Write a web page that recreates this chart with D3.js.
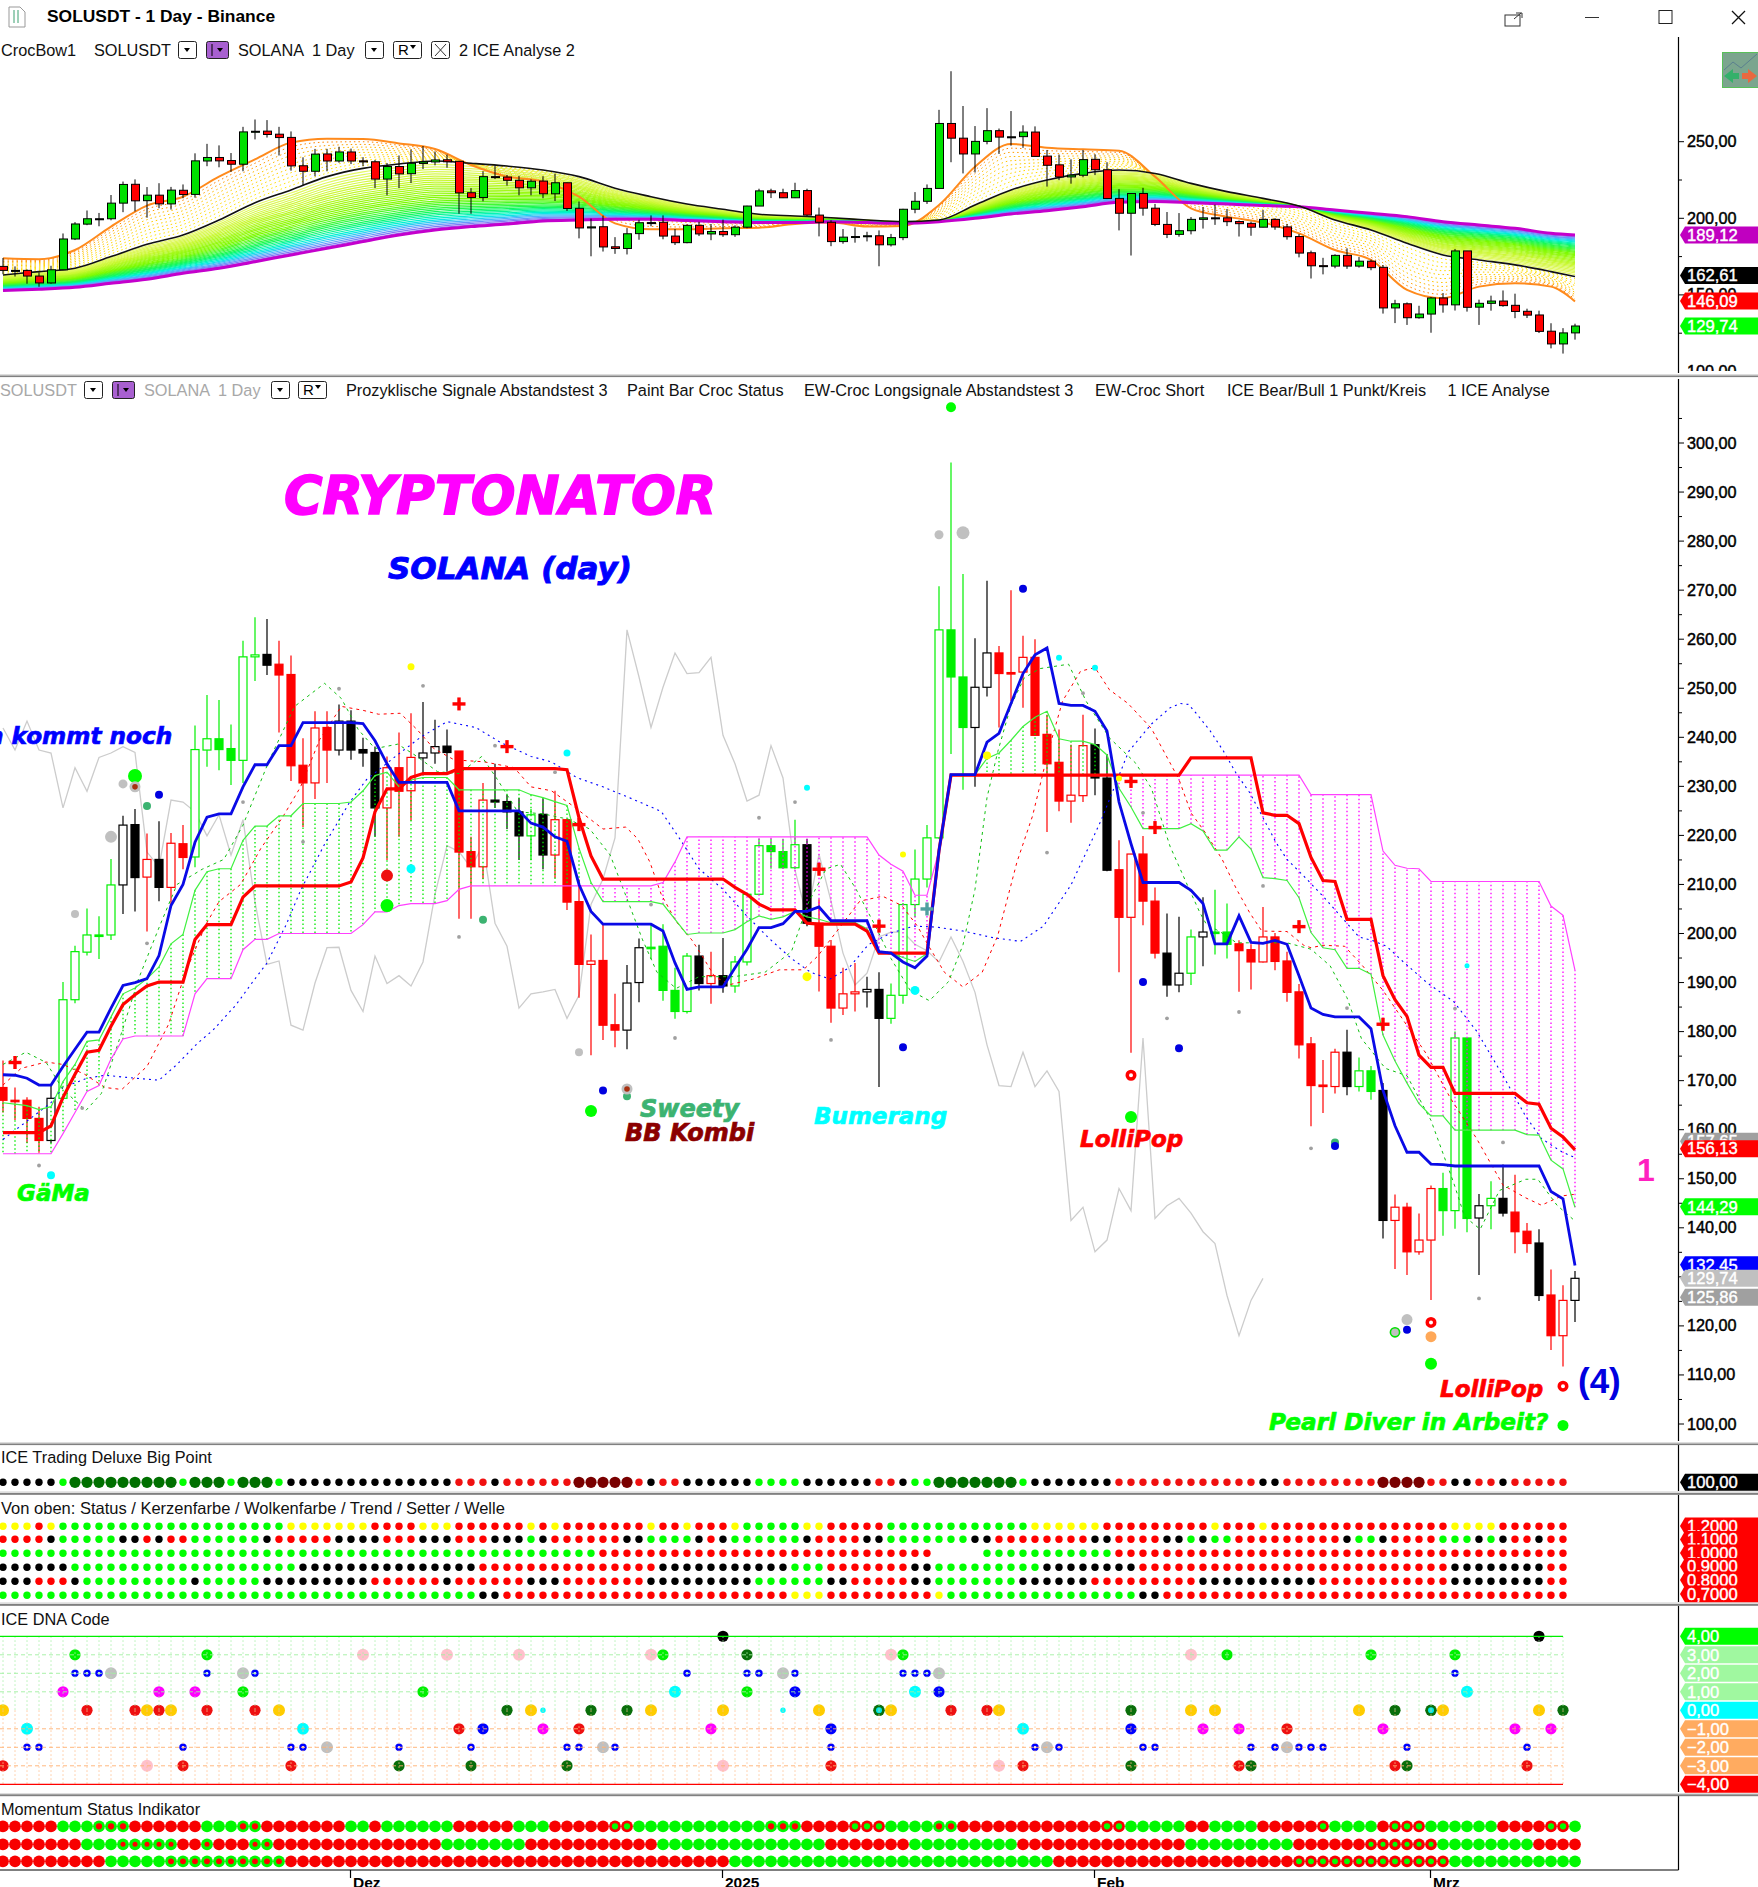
<!DOCTYPE html>
<html><head><meta charset="utf-8">
<script src="https://cdn.jsdelivr.net/npm/d3@7/dist/d3.min.js"></script>
<style>html,body{margin:0;padding:0;background:#fff;overflow:hidden}svg{display:block}text{font-family:"Liberation Sans",Arial,sans-serif}</style>
</head><body><svg id="c" width="1758" height="1887"></svg>
<script>
const opens=[168.6,166,166,162.3,157.8,166.4,186.5,196.2,199.7,199.7,209.9,222.2,211.5,215.1,209.4,218.3,215.6,237.4,239.7,237.7,235.3,256.4,256.9,254.9,252.8,234.3,230.7,242,237.4,243.3,237.5,236.9,225.6,233.8,229.1,235.8,236.8,238.2,237.2,216.7,213.6,227.2,226.9,224.8,219.9,224.3,216,223.2,206.5,193.7,194.5,181.4,180.3,190,197.2,197.4,188.4,184.1,195.4,189.8,191.4,189.3,194.2,208,217.9,216.7,213.4,218.1,202.1,197.4,184.8,187.7,188.1,188.6,182.7,187.4,205.9,211.1,219.5,261.9,252.3,242,250.2,257.2,253.2,253.3,256.3,240.6,234.9,227,228.1,238.5,231.7,213,203.3,216.2,206.6,196,189.5,191.9,199.3,200.3,200.3,197.9,196.7,194.2,199.3,194.4,188.1,177.5,169.1,168.8,175.8,168.8,172,168,141.5,144.2,135.1,137.5,148,143.5,178.7,142,144.5,146,143.2,139.3,136.9,126.3,118,125.2];
const highs=[174.1,168.6,166.6,164.7,169,190.1,197.5,205.1,203.5,215.2,224,225.4,220.4,222.9,220.5,222.1,242.4,248.6,247.6,242.6,259.7,264.5,264.1,259.7,256.7,239.8,245.3,245.3,246.7,245.5,239.9,238.1,236.1,241,244.9,247.2,243.6,241.6,237.2,219.7,230.7,234.6,228.3,227.7,225.4,227.5,229.1,223.3,211,199.8,201.8,187.7,193.6,199,201.9,201.9,193,196,197.7,196.3,199.1,195.4,208.2,219.3,219.3,219.3,223.2,219.3,207,198.7,193,194,191.2,192.1,189.8,206.2,217.1,222.1,270.8,296,273.3,260.2,271.9,258.6,270,260.7,260,244.6,241.6,238.5,244.6,241.8,236.6,219,216.2,219.9,209.4,204.1,203.4,200.8,207.4,208.9,206.1,198.6,197.8,205.4,200.1,196.3,189.7,178.9,174.2,176.5,180.4,174.7,173,169.5,146.8,145.1,142.9,148.6,151.2,180,178.7,146.9,149.5,152.9,150.8,141,139.7,131.5,128.3,131.2];
const lows=[163.5,162,157.3,155.3,157.3,166.2,185.8,195.5,194.8,198.7,204,204.5,200.4,206.6,205.7,213.1,213.5,234,233.3,230.3,230.7,251.5,252.7,241,231.1,221.7,227.4,230.7,236.3,235.4,234,219.7,215,219.7,223,232.2,234.6,233,203,203,211.1,225.6,221.3,215,215,213.1,211.3,204.8,186.9,175.2,178.3,176.8,176.4,186,194.8,186.3,182.6,183.7,188.4,185.7,187.9,187.9,193.5,208,213.2,213.2,213.2,201.5,188.2,181.8,183.4,184.1,184.9,168.7,181.6,185.7,203.3,209.4,219.3,236.6,229.3,229.9,248.3,242,247.4,246,240.4,220.7,224.9,222.6,226.8,228.2,212.7,192.1,175.7,201.7,194.9,187.1,188,189.5,193.3,195.7,194.9,188.1,188.6,194.1,192.5,186.1,174.5,160.7,163.4,167.4,167,167.8,166.1,137.8,131.6,130.4,134.5,125.3,138.4,139.8,139.1,130.4,139.7,142.3,134.8,134.9,125.1,115.1,111.7,120.8];
const closes=[166,166,162.3,157.8,166.4,186.5,196.3,199.7,199.7,209.9,222.1,211.4,215.1,209.4,218.4,215.5,237.5,239.7,237.5,235.3,256.4,256.8,254.7,252.7,234.2,230.7,241.9,237.4,243.3,237.4,236.8,225.6,233.8,229,235.9,236.8,238.1,236.9,216.6,213.6,227.2,226.8,224.8,219.9,224.2,216,223.2,206.4,193.7,194.4,181.3,180.3,189.9,197.1,197.2,188.4,184.1,195.4,189.8,191.4,189.3,194.2,208,217.9,216.7,213.4,218.1,202.1,197.4,184.8,187.7,188.1,188.6,182.7,187.4,205.9,211.1,219.5,261.9,252.3,242,250.2,257.2,253,253.2,256.3,240.4,234.6,227,228.2,238.3,231.7,212.9,203.3,216.2,206.6,196,189.5,191.9,199.3,200.3,200.3,197.8,196.5,194.2,199.3,194.3,188,177.3,169,168.8,175.8,168.8,172,167.8,141.5,144.2,135.1,137.5,148,143.5,178.7,141.9,144.5,146,143,139.2,136.8,126.2,118,125.2,129.7];
const candleColors="rrrrkgggggkkrkrrggggggkrrrrrkkkkrrrkkkrrrkkkgkrrrrrrkkggggkrkgggggg krrrrkkgggggggkkrrrrrrrrkkrrrrkkgkggrrrrrrrrrkggkrrrrgggkgkrrkrrk".replace(/ /g,"");
const tenkanBlue=[171.2,171.1,170.5,169.1,169.1,172.9,176.4,179.9,179.9,184.8,189.4,190,190.8,195.5,205.7,210,218.6,223.7,224.4,224.4,229.9,234.4,234.4,238.3,238.3,243,243,243,243,243,242.8,239.3,234.6,230.8,230.8,230.8,230.8,230.8,225,225,225,225,225,225,222.5,221.7,219.7,218.8,210,204.5,201.9,201.9,201.9,201.9,201.9,200.5,194,188.6,189.1,189.1,189.1,193,196.8,201.2,201.2,202,204.5,204.5,205.4,202.6,202.6,202.6,202.6,196.3,196,194.2,193,195.4,216.9,232.4,232.4,232.4,239,240.8,246.9,253,256.8,258.2,246.9,246.5,246.5,245.3,241.3,226.8,218.3,210.4,210.4,210.4,210.4,208.8,206.1,197.9,197.9,203.6,198.2,198,198.6,197.8,191.4,184.8,183.5,183,183,183,180.6,168,160.8,155.4,155.4,153,152.9,152.6,152.6,152.6,152.6,152.6,152.6,152.6,152.6,147.4,145.9,132.3];
const kijunRed=[159.4,159.4,159.4,159.4,160.8,166.6,171.3,175.8,176.2,181.1,185.5,187.5,189.3,190.1,190.1,190.1,198.8,201.8,201.8,201.8,207.4,209.7,209.7,209.7,209.7,209.7,209.7,209.7,209.7,210.5,215.4,224.8,229.5,229.5,231.8,232.6,232.6,232.6,233.6,233.6,233.6,233.6,233.6,233.6,233.6,233.6,233.6,233.4,223.6,215.8,211.1,211.1,211.1,211.1,211.1,211.1,211.1,211.1,211.1,211.1,211.1,209.4,208,206,204.8,204.8,204.8,202.1,201.9,201.9,201.9,201.9,200.5,196,196,196,196,196,216.9,232.3,232.3,232.3,232.3,232.3,232.3,232.3,232.3,232.3,232.3,232.3,232.3,232.3,232.3,232.3,232.3,232.3,232.3,232.3,232.3,235.8,235.8,235.8,235.8,235.8,235.8,224.6,224.1,224.1,222.4,215.5,210.8,210.6,202.9,202.9,202.9,191.4,186.5,183.1,175.2,172.7,172.7,167.4,167.4,167.4,167.4,167.4,167.4,165.5,165.2,160.3,158.5,155.9];
const senkouGreen=[165.5,165.2,164.9,164.1,164.7,169.8,173.3,178,178.3,183,187.7,188.9,190.8,193.2,197.9,199.8,208.8,212.6,213.2,213.2,219,221.9,221.9,224,224,226.5,226.5,226.5,226.5,226.8,229.1,232.2,232.9,229.9,231.3,231.8,231.8,231.8,229.3,229.3,229.3,229.3,229.3,229.3,228.3,227.7,226.9,226.1,217.4,210.4,206.5,206.5,206.5,206.5,206.5,206,202.9,199.8,200.1,200.1,200.1,200.8,202.4,203.6,202.9,203.4,204.5,203.4,202.9,202.2,202.2,202.2,201,196.3,196,195.1,194.3,195.9,216.9,232.4,232.4,232.4,235.7,236.8,239.4,242.2,244.1,245.3,239.7,239.2,239.2,238.5,236.4,229.6,225.8,221.4,221.4,221.4,221.4,222.4,220.9,217,217,219.7,217.2,211.4,211.2,210.8,207.3,200.2,197.1,196.7,192.9,192.9,191.7,179.3,174,169.5,165.3,162.8,162.8,159.9,159.9,159.9,159.9,159.9,159.9,159,158.9,153.8,152,144.2];
const senkouMagenta=[155.1,155.1,155.1,155.1,155.1,159.2,163.5,167.8,169,174.4,178.5,179.1,179.1,179.1,179.1,179.1,187.7,190.8,190.8,190.8,196.7,198.8,198.8,200,200,200,200,200,200,200,201.8,204.4,204.4,205.7,206.1,206.1,206.1,206.7,209,209.7,209.7,209.7,209.7,209.7,209.7,209.7,209.7,209.7,209.7,209.7,209.7,209.7,209.7,209.7,209.7,210.4,214.6,219.7,219.7,219.7,219.7,219.7,219.7,219.7,219.7,219.7,219.7,219.7,219.7,219.7,219.7,219.7,219.7,216,214.1,212.7,207.8,207.8,216.9,232.3,232.3,232.3,232.3,232.3,232.3,232.3,232.3,232.3,232.3,232.3,232.3,232.3,232.3,232.3,232.3,232.3,232.3,232.3,232.3,232.3,232.3,232.3,232.3,232.3,232.3,232.3,232.3,232.3,232.3,228.3,228.3,228.3,228.3,228.3,228.3,216.8,213.9,213.3,213.2,210.6,210.6,210.6,210.6,210.6,210.6,210.6,210.6,210.6,210.6,205.6,203.7,192.5];
const dashBlue=[[0,158],[4,165.5],[5,168.6],[7,170.5],[8.5,171.1],[11,170.5],[13,170.1],[14.5,173.3],[16.2,177.6],[17.5,180.3],[19.4,185.4],[20.8,190.1],[22,194],[23.6,201.8],[24.8,208.8],[26.8,218.2],[28.9,226.8],[30.3,231.4],[32.7,236.1],[34.8,240],[37,243.2],[39.4,242],[41.5,238.9],[44,236.1],[45.7,235],[47.8,231.8],[50,229.9],[51.7,228.2],[54.85,224.9],[56.4,219.3],[58,213.2],[60,209],[61.9,203.8],[63.8,199.1],[65.7,194.9],[67.3,192.1],[68.9,190.7],[70.5,193],[72.1,197.7],[74,200.1],[75.9,201.5],[77.8,201.3],[80,200.5],[82.6,199.1],[84.8,198.4],[86.7,201.5],[89,209.9],[91.5,223],[93.8,237.1],[95.7,242.7],[97.25,246],[98.1,246.9],[98.8,246.7],[99.5,244.7],[100.6,241.3],[101.7,237.2],[102.8,232.5],[103.9,228.7],[105,223.6],[106.1,218.5],[107,215.1],[108.4,211.7],[110,207.6],[111.7,202.9],[113,199.3],[114.2,198.5],[115.3,197.4],[116.7,194.2],[118.7,189.9],[120.9,186.1],[122.8,180.1],[125,171],[126.9,162.7],[128.2,158.2],[129.9,155.5],[130.9,154.4]];
const dashRed=[[0,169.1],[1.5,172.5],[3.6,173.8],[5,173.3],[6.8,171.3],[8.5,168.6],[9.9,168.2],[12,172.9],[13.8,181.5],[15.2,192],[16.9,201.8],[18,206.5],[19.8,210],[21.5,217.4],[23.3,223.7],[24.8,229.9],[26.4,239.6],[28.2,246.3],[30,245.5],[31.3,244.7],[33.1,244.9],[34.5,241.6],[35.9,237.7],[37.6,235.4],[40.1,235],[42.6,233.8],[44,229.9],[45.7,229.1],[47.5,226],[50,221.3],[51.9,221.7],[52.9,219.3],[53.9,214.6],[54.85,208],[56.1,202.4],[57.4,198.7],[58.4,194.9],[59.3,191.2],[60.6,189.6],[62.5,190.7],[64.7,192.6],[66.7,192.6],[67.9,195.4],[69.5,200.5],[71.4,206.6],[73.3,207.6],[74.9,205.7],[76.2,201.5],[77.2,197.2],[78.45,192.1],[80,189.1],[81.6,192.1],[82.9,199.6],[84.5,214.6],[85.8,224],[87.1,237.1],[88.3,247.4],[89.8,253.5],[91,254.2],[92.2,249.7],[93.75,246.9],[95.7,241.8],[97.25,234.8],[98,231.4],[99,224.6],[100.3,220.2],[101.6,215.1],[102.8,209],[103.9,204.2],[104.9,200.5],[107,200.4],[108.4,197.6],[109,197.1],[110,197.6],[111.8,197.4],[113.2,193.7],[115,188.4],[116.7,182.3],[118.6,175.5],[120.6,166.5],[122.8,158.2],[125,148.7],[126.9,146.1],[128.2,144.6],[129.9,146.5],[130.9,146.8]];
const dashGreen=[[0,173.3],[1.9,175.8],[3.6,173.7],[5,168.2],[6.9,163.9],[8.2,167.4],[9.9,179.9],[11.3,190.8],[13.1,201.8],[14.5,210],[16.6,213.1],[18.4,215.1],[20,222.1],[22.2,235.4],[24.3,246.3],[26.8,251],[28.2,247.9],[29.6,241.6],[31,237.7],[32.9,238.6],[34.5,236.1],[36.2,233],[38,232.6],[39.9,236.1],[41.2,231.4],[42.9,224.8],[45,224.4],[47.1,223.3],[48.9,221.3],[50.6,216],[52,207.1],[53.3,198.7],[54.5,192.1],[56.1,188.8],[58,191.2],[60.9,191.2],[63.5,192.1],[65.7,196.3],[67.1,206.2],[68.6,213.2],[69.8,214.1],[71.1,209],[72.7,201.5],[74,194.9],[75.6,188.4],[77.2,186.3],[78.8,190.2],[80,197.7],[81,209],[82,227.7],[82.9,237.1],[84,246.5],[85.1,252.1],[86.4,254],[88.8,254.9],[90.25,247.4],[92.2,239.9],[94.4,234.7],[95.7,229.6],[97.25,217.8],[98.6,210.4],[99.75,204.2],[100.3,201.8],[101.4,200.4],[102.8,198.1],[107,198.1],[109,196.8],[110.6,193.4],[112,186.9],[113.2,178.6],[115.2,172.5],[117,171],[119,161.9],[120.9,149.1],[121.8,142.3],[123.1,139.7],[124.7,147.6],[126.9,149.9],[127.9,149.9],[129.5,144.6],[130.9,141.6]];
const bowIndex=[0,3,6,9,12,15,18,21,24,27,30,33,36,39,42,45,48,51,54,57,60,63,66,69,72,75,78,81,84,87,90,93,96,99,102,105,108,111,114,117,120,123,126,129,131];
const bowOrange=[173.9,173.3,179.3,194.6,208.3,214.1,227.2,238.5,249.4,252,251.7,248.9,245.2,234.8,227.2,223.9,214.1,196.7,192.8,192.8,193.5,193.9,196.3,197.2,194.6,195,208.7,233.7,248.5,246.1,245,244.1,227.2,206.5,201.1,197.2,190.2,179.3,172.8,153.3,147.8,155.4,157.6,155.4,145.7];
const bowBlack=[163,165.2,167.4,175,183,189.1,198.9,210.2,218.5,227.2,232.6,235.4,237.4,235.9,234.1,231.5,227.2,219.6,214.1,209.3,205.9,202.6,201.5,200.4,198.9,197.8,198.9,208.7,218.5,225,229.3,231.5,229.3,222.8,217.4,213,208,198.9,192.4,183.7,176.1,172.8,169.6,165.2,162];
const bowMagenta=[152.8,153.7,155,157.6,160.2,164.1,167.4,171.7,176.1,180.4,184.8,189.1,192.4,194.6,196.3,198.3,198.9,199.3,199.3,198.5,197.8,197.2,197.2,197.8,197.2,196.7,197.8,200,202.8,205,207.6,210.4,210.9,210.2,209.3,208.3,207.6,205.4,203.3,201.1,197.8,195.6,193.5,190.2,189.1];
const bigPointRuns="k5 g1 G9 g1 G3 g1 G3 g1 k14 r3 k1 r6 D5 r1 k1 r2 k6 g4 k6 r2 k1 g2 G7 g1 k7 r12 k2 r8 D4 r2 k2 r2 k1 r5";
const statusRuns="y3 r1 y1 g19 y7 r4 y3 r6 y1 r1 y1 r7 y1 r2 y1 r3 y1 g5 y2 r5 g12 y6 r9 y1 r3 y1 r15 y4 r6";
const cloudRuns="g50 r28 _4 g11 r38";
const trendRuns="k6 g19 k15 r15 k11 g3 r7 k2 g9 k8 r26 k8 r2";
const setterRuns="k3 r3 k1 g9 k1 g5 k9 r6 k1 r6 k3 r7 k9 g6 k2 r5 k2 g7 k6 r9 k10 r11 k8 r2";
const welleRuns="g40 k2 r24 y3 r9 y1 g16 k2 r34";
const momentum1="R5 G3 a3 R6 G3 a2 R7 G2 R1 G6 R5 G3 R5 b2 G11 a3 R4 b3 G4 a2 R12 b2 G5 R2 G4 R5 b1 G4 R1 b3 G6 R4 b2 G1";
const momentum2="R7 G3 a5 R2 a1 R3 a2 R14 G7 R11 G14 R7 G9 R14 G9 R6 b6 G8 R4";
const momentum3="R9 G5 a10 R37 G27 R20 b13 G11";
const dnaDots=[[6,3,"g"],[17,3,"g"],[30,3,"P"],[37,3,"P"],[43,3,"P"],[54,3,"P"],[55,3,"g"],[62,3,"D"],[74,3,"P"],[75,3,"g"],[99,3,"P"],[102,3,"g"],[114,3,"g"],[121,3,"g"],
[6,2,"b"],[7,2,"b"],[8,2,"b"],[9,2,"s"],[17,2,"b"],[20,2,"s"],[21,2,"b"],[57,2,"b"],[62,2,"b"],[63,2,"b"],[65,2,"s"],[66,2,"b"],[75,2,"b"],[76,2,"b"],[77,2,"b"],[78,2,"s"],[121,2,"b"],
[5,1,"M"],[13,1,"M"],[16,1,"M"],[20,1,"g"],[35,1,"g"],[56,1,"c"],[62,1,"g"],[66,1,"B"],[76,1,"c"],[78,1,"B"],[122,1,"c"],
[0,0,"o"],[7,0,"R"],[11,0,"R"],[12,0,"o"],[13,0,"R"],[14,0,"o"],[17,0,"R"],[21,0,"R"],[23,0,"o"],[42,0,"D"],[44,0,"o"],[45,0,"t"],[49,0,"D"],[52,0,"D"],[54,0,"o"],[60,0,"o"],[65,0,"t"],[68,0,"o"],[73,0,"X"],[74,0,"o"],[79,0,"R"],[82,0,"R"],[83,0,"o"],[94,0,"D"],[99,0,"o"],[101,0,"o"],[113,0,"o"],[116,0,"D"],[119,0,"X"],[120,0,"o"],[128,0,"o"],[130,0,"D"],
[2,-1,"c"],[25,-1,"c"],[38,-1,"R"],[40,-1,"B"],[45,-1,"M"],[48,-1,"R"],[59,-1,"M"],[69,-1,"B"],[85,-1,"c"],[94,-1,"B"],[100,-1,"M"],[103,-1,"M"],[107,-1,"R"],[115,-1,"M"],[126,-1,"M"],[129,-1,"M"],
[2,-2,"b"],[3,-2,"b"],[15,-2,"b"],[24,-2,"b"],[25,-2,"b"],[27,-2,"s"],[33,-2,"b"],[39,-2,"b"],[47,-2,"b"],[48,-2,"b"],[50,-2,"s"],[51,-2,"b"],[69,-2,"b"],[86,-2,"b"],[87,-2,"s"],[88,-2,"b"],[95,-2,"b"],[96,-2,"b"],[104,-2,"b"],[106,-2,"b"],[107,-2,"s"],[108,-2,"b"],[109,-2,"b"],[110,-2,"b"],[117,-2,"b"],[127,-2,"b"],
[0,-3,"R"],[12,-3,"P"],[15,-3,"R"],[24,-3,"R"],[33,-3,"D"],[39,-3,"D"],[47,-3,"D"],[60,-3,"P"],[69,-3,"R"],[83,-3,"P"],[85,-3,"R"],[94,-3,"D"],[103,-3,"R"],[104,-3,"D"],[116,-3,"R"],[117,-3,"D"],[127,-3,"R"],
[60,4,"k"],[128,4,"k"]];
const mainMarkers=[[11,232.1,"lime",7],[10,230.5,"#c0c0c0",4.5],[13,228.3,"#0000e0",4],[12,226,"#3cb371",4],[9,219.7,"#c0c0c0",6],[6,204,"#c0c0c0",4],[4,150.7,"#00ffff",4],[34,254.4,"#ffff00",3.5],[47,236.8,"#00ffff",3.5],[32,211.8,"#ee1010",6],[32,205.7,"lime",6.5],[34,213.2,"#00ffff",4.5],[40,202.8,"#3cb371",4],[48,175.8,"#c0c0c0",4],[50,168,"#0000e0",4],[52,166.8,"#3cb371",4],[49,163.8,"lime",6],[78,281.3,"#c0c0c0",4.5],[80,281.7,"#c0c0c0",6.5],[85,270.3,"#0000e0",4],[88,256.2,"#00ffff",3],[91,254.2,"#00ffff",3],[82,236.3,"#ffff00",4],[93,231.6,"#ffff00",3],[67,229.7,"#00ffff",3],[75,216.1,"#ffff00",3],[67,191.2,"#ffff00",4.5],[76,188.4,"#00ffff",4.5],[75,176.8,"#0000e0",4],[94,162.6,"lime",6],[95,190.1,"#0000e0",4],[98,176.6,"#0000e0",4],[79,307.3,"lime",5],[122,193.4,"#00ffff",2.5],[111,157.4,"#3cb371",4],[111,156.7,"#0000e0",4],[117,121.3,"#c0c0c0",5.5],[117,119.2,"#0000e0",4],[119,117.8,"#ffa858",5.5],[119,112.3,"lime",6],[130,99.7,"lime",5.5]];
const smallGray=[[12,198],[6.6,164.4],[3,152.7],[35,250.5],[28,249.9],[20,226.8],[25,218.7],[41,238.3],[46,232.9],[38,199.3],[54,205.9],[90,249],[87,216.5],[95,224.6],[66,226.8],[63,223.6],[56,178.7],[69,178.3],[97,182.7],[103,184],[105,209.7],[112,184.8],[121,184.7],[109,156.2],[125,157.4],[123,125.6]];
const crosses=[[1,173.7,"#ff0000"],[38,246.8,"#ff0000"],[42,238.1,"#ff0000"],[48,222.2,"#ff0000"],[94,231,"#ff0000"],[96,221.6,"#ff0000"],[68,213.1,"#ff0000"],[73,201.5,"#ff0000"],[77,205,"#50a0a0"],[108,201.4,"#ff0000"],[115,181.5,"#ff0000"]];
const ringMarkers=[[94,171.1],[119,120.7],[130,107.7]];
const brownMarkers=[[11,229.9],[52,168.3]];
const greenRingMarkers=[[116,118.7]];
const topTicks=[250,200,150,100];
const mainTicks=[100,110,120,130,140,150,160,170,180,190,200,210,220,230,240,250,260,270,280,290,300];
const topTags=[[189.12,"#c000c0"],[162.61,"#000"],[146.09,"#ff0000"],[129.74,"#00ff00"]];
const mainTags=[[157.65,"#a0a0a0"],[156.13,"#ff0000"],[144.29,"#00ff00"],[132.45,"#0000ff"],[129.74,"#c0c0c0"],[125.86,"#a0a0a0"]];
const statusLabels=["1,2000","1,1000","1,0000","0,9000","0,8000","0,7000"];
const dnaLevels=[4,3,2,1,0,-1,-2,-3,-4];
const dnaTagColors=["#00ff00","#a0f8a0","#a0f8a0","#a0f8a0","#00ffff","#ffab60","#ffab60","#ffab60","#ff0000"];
const monthTicks=[[29,"Dez"],[60,"2025"],[91,"Feb"],[119,"Mrz"]];
const header1=[["CrocBow1",1],["SOLUSDT",94],["SOLANA",238],["1 Day",312],["2 ICE Analyse 2",459]];
const header2=[["Prozyklische Signale Abstandstest 3",346],["Paint Bar Croc Status",627],["EW-Croc Longsignale Abstandstest 3",804],["EW-Croc Short",1095],["ICE Bear/Bull 1 Punkt/Kreis",1227],["1 ICE Analyse",1447.5]];
const annotations=[
 ["CRYPTONATOR",284,514,52.6,"#ff00ff"],["SOLANA (day)",388,579,31,"#0000ff"],["n kommt noch",-13,744,23.2,"#0000ff"],
 ["Sweety",640,1117,24,"#3cb371"],["BB Kombi",625,1141,24,"#8b0000"],["Bumerang",814,1124,23,"#00ffff"],
 ["LolliPop",1080,1147,23,"#ff0000"],["GäMa",17,1201,23,"#00ff00"],["LolliPop",1440,1397,23,"#ff0000"],["Pearl Diver in Arbeit?",1269,1430,23.2,"#00ff00"]];

const svg=d3.select("#c");
const defs=svg.append("defs");
const clipRect=(id,x,y,w,h)=>defs.append("clipPath").attr("id",id).append("rect").attr("x",x).attr("y",y).attr("width",w).attr("height",h);
clipRect("topClip",0,37,1678,334);clipRect("mainClip",0,378,1678,1063);clipRect("topAxClip",1679,37,79,334);clipRect("mainAxClip",1679,378,79,1063);
const n=closes.length, colorsOf={r:"#ff0000",g:"#00ff00",k:"#000000",y:"#ffff00"};
const x=d3.scaleLinear().domain([0,131]).range([3,1575]);
const yTop=d3.scaleLinear().domain([200,250]).range([218.3,141.7]);
const yMain=d3.scaleLinear().domain([100,300]).range([1424,443]);
const fmt=v=>d3.format(".2f")(v).replace(".",",");
const expand=s=>s.split(" ").flatMap(t=>Array(+t.slice(1)).fill(t[0]));
const txt=(t,px,py,size,opt={})=>svg.append("text").attr("x",px).attr("y",py).attr("font-size",size).attr("fill",opt.fill||"#000").attr("font-weight",opt.w||400).text(t);

/* ---------- top ribbon ---------- */
const topG=svg.append("g").attr("clip-path","url(#topClip)");
const bowLine=d3.line().x(d=>x(d[0])).y(d=>yTop(d[1])).curve(d3.curveMonotoneX);
const blend=(a,b,t)=>bowIndex.map((ix,k)=>[ix,a[k]+(b[k]-a[k])*t]);
const warm=d3.scaleLinear().domain([0,.3,1]).range(["#ff6a00","#ffc000","#fff000"]);
d3.range(1,11).forEach(k=>{topG.append("path").attr("d",bowLine(blend(bowOrange,bowBlack,k/11))).attr("fill","none").attr("stroke",warm(k/11)).attr("stroke-width",1).attr("stroke-dasharray","1.5 3");});
const rainbow=d3.scaleLinear().domain([0,.22,.5,.7,.82,.9,1]).range(["#e8f870","#c8f830","#7cfa00","#10f860","#00f0e0","#5aa8ff","#b040e8"]);
const NB=36;
d3.range(1,NB).forEach(k=>{const t=k/NB;topG.append("path").attr("d",bowLine(blend(bowBlack,bowMagenta,Math.pow(t,.85)))).attr("fill","none").attr("stroke",rainbow(t)).attr("stroke-width",1.2);});
topG.append("path").attr("d",bowLine(blend(bowOrange,bowOrange,0))).attr("fill","none").attr("stroke","#ff8a1c").attr("stroke-width",2);
topG.append("path").attr("d",bowLine(blend(bowMagenta,bowMagenta,0))).attr("fill","none").attr("stroke","#c400cc").attr("stroke-width",3);
topG.append("path").attr("d",bowLine(blend(bowBlack,bowBlack,0))).attr("fill","none").attr("stroke","#111").attr("stroke-width",1.6);
const idx=d3.range(n);
topG.selectAll(".w").data(idx).enter().append("line").attr("x1",x).attr("x2",x).attr("y1",i=>yTop(highs[i])).attr("y2",i=>yTop(lows[i])).attr("stroke","#000");
topG.selectAll(".b").data(idx).enter().append("rect").attr("x",i=>x(i)-3.5).attr("width",8).attr("y",i=>yTop(Math.max(opens[i],closes[i]))).attr("height",i=>Math.max(1,Math.abs(yTop(opens[i])-yTop(closes[i]))))
 .attr("fill",i=>closes[i]>opens[i]?"#00e000":closes[i]<opens[i]?"#ff0000":"#000").attr("stroke","#000").attr("stroke-width",1);

/* ---------- main panel ---------- */
const mG=svg.append("g").attr("clip-path","url(#mainClip)");
const lineM=d3.line().x(d=>x(d[0])).y(d=>yMain(d[1]));
const cc=candleColors;
const cCol=i=>({r:"#ff0000",g:"#00f000",k:"#000"}[cc[i]]||"#000");
mG.append("path").attr("d",lineM(closes.slice(26).map((v,i)=>[i,v]))).attr("fill","none").attr("stroke","#cccccc").attr("stroke-width",1.3);
mG.selectAll(".mw").data(idx).enter().append("line").attr("x1",x).attr("x2",x).attr("y1",i=>yMain(highs[i])).attr("y2",i=>yMain(lows[i])).attr("stroke",cCol).attr("stroke-width",1.2);
mG.selectAll(".mb").data(idx).enter().append("rect").attr("x",i=>x(i)-4).attr("width",8).attr("y",i=>yMain(Math.max(opens[i],closes[i]))).attr("height",i=>Math.max(1.5,Math.abs(yMain(opens[i])-yMain(closes[i]))))
 .attr("fill",i=>closes[i]>opens[i]?"#fff":cCol(i)).attr("stroke",cCol).attr("stroke-width",1.2);
mG.selectAll(".hatch").data(idx).enter().append("line").attr("x1",x).attr("x2",x).attr("y1",i=>yMain(senkouGreen[i])).attr("y2",i=>yMain(senkouMagenta[i]))
 .attr("stroke",i=>senkouGreen[i]>=senkouMagenta[i]?"#00e800":"#ff00ff").attr("stroke-width",1.3).attr("stroke-dasharray","1.5 2.5");
const seq=a=>a.map((v,i)=>[i,v]);
mG.append("path").attr("d",lineM(dashBlue)).attr("fill","none").attr("stroke","#0000ff").attr("stroke-width",1.1).attr("stroke-dasharray","2 4");
mG.append("path").attr("d",lineM(dashRed)).attr("fill","none").attr("stroke","#ff0000").attr("stroke-width",1).attr("stroke-dasharray","3 4");
mG.append("path").attr("d",lineM(dashGreen)).attr("fill","none").attr("stroke","#10c010").attr("stroke-width",1).attr("stroke-dasharray","3 4");
mG.append("path").attr("d",lineM(seq(senkouGreen))).attr("fill","none").attr("stroke","#40f040").attr("stroke-width",1.2);
mG.append("path").attr("d",lineM(seq(senkouMagenta))).attr("fill","none").attr("stroke","#ff40ff").attr("stroke-width",1.2);
mG.append("path").attr("d",lineM(seq(kijunRed))).attr("fill","none").attr("stroke","#ff0000").attr("stroke-width",3.2);
mG.append("path").attr("d",lineM(seq(tenkanBlue))).attr("fill","none").attr("stroke","#0a0ae6").attr("stroke-width",2.8);
mG.selectAll(".sg").data(smallGray).enter().append("circle").attr("cx",d=>x(d[0])).attr("cy",d=>yMain(d[1])).attr("r",1.9).attr("fill","#a0a0a0");
mG.selectAll(".mk").data(mainMarkers).enter().append("circle").attr("cx",d=>x(d[0])).attr("cy",d=>yMain(d[1])).attr("r",d=>d[3]).attr("fill",d=>d[2]);
brownMarkers.forEach(d=>{mG.append("circle").attr("cx",x(d[0])).attr("cy",yMain(d[1])).attr("r",5.5).attr("fill","#c0c0c0");mG.append("circle").attr("cx",x(d[0])).attr("cy",yMain(d[1])).attr("r",2.8).attr("fill","#a83010");});
greenRingMarkers.forEach(d=>{mG.append("circle").attr("cx",x(d[0])).attr("cy",yMain(d[1])).attr("r",4.6).attr("fill","#c0c0c0").attr("stroke","#00e000").attr("stroke-width",1.6);});
ringMarkers.forEach(d=>{mG.append("circle").attr("cx",x(d[0])).attr("cy",yMain(d[1])).attr("r",3.75).attr("fill","#fff").attr("stroke","#ff0000").attr("stroke-width",3.5);});
crosses.forEach(d=>{const cx=x(d[0]),cy=yMain(d[1]);mG.append("rect").attr("x",cx-6.5).attr("y",cy-1.7).attr("width",13).attr("height",3.4).attr("fill",d[2]);mG.append("rect").attr("x",cx-1.7).attr("y",cy-6.5).attr("width",3.4).attr("height",13).attr("fill",d[2]);});
annotations.forEach(a=>{svg.append("text").attr("x",a[1]).attr("y",a[2]).attr("font-size",a[3]).attr("fill",a[4]).attr("font-weight",700).attr("font-style","italic").attr("stroke",a[4]).attr("stroke-width",a[3]*.03).style("font-family","'DejaVu Sans'").text(a[0]);});
txt("(4)",1578,1393,35,{fill:"#0000e0",w:700});
txt("1",1637,1181,32,{fill:"#ff20c0",w:700});

/* ---------- dot panels ---------- */
const dotRow=(arr,cy,r,g)=>arr.forEach((c,i)=>{if(c==="_")return;g.append("circle").attr("cx",x(i)).attr("cy",cy).attr("r",r).attr("fill",colorsOf[c]);});
const bp=svg.append("g");
expand(bigPointRuns).forEach((c,i)=>{const big=c==="G"||c==="D";bp.append("circle").attr("cx",x(i)).attr("cy",1482.3).attr("r",big?5.6:3.7).attr("fill",{k:"#000",g:"#00ff00",G:"#007000",r:"#f01010",D:"#7a0000"}[c]);});
const st=svg.append("g");
[[expand(statusRuns),1526.3],[cc.slice(0,131).split(""),1539.3],[expand(cloudRuns),1553.3],[expand(trendRuns),1567.3],[expand(setterRuns),1581.3],[expand(welleRuns),1595.3]].forEach(r=>dotRow(r[0],r[1],3.7,st));
const dnaY=d3.scaleLinear().domain([4,-4]).range([1636.3,1784.3]);
const dn=svg.append("g");
const dnaStyle={g:["#00f000",5.6],M:["#ff00ff",5.6],R:["#ee1010",5.6],o:["#ffcc00",6],c:["#00ffff",6],P:["#ffc0cb",6],s:["#c0c0c0",6],D:["#0a6e0a",5.6],B:["#0000ff",5.6],k:["#000",5.6],b:["#0000ff",3.7],t:["#00ffff",2.7],X:["#0a6e0a",5.8]};
dnaDots.forEach(d=>{const s=dnaStyle[d[2]];dn.append("circle").attr("cx",x(d[0])).attr("cy",dnaY(d[1])).attr("r",s[1]).attr("fill",s[0]);if(d[2]==="X")dn.append("circle").attr("cx",x(d[0])).attr("cy",dnaY(d[1])).attr("r",3).attr("fill","#00e8e8");if(d[2]==="b")dn.append("circle").attr("cx",x(d[0])).attr("cy",dnaY(d[1])).attr("r",1.3).attr("fill","#fff");});
d3.range(0,131).forEach(i=>{dn.append("line").attr("x1",x(i)).attr("x2",x(i)).attr("y1",dnaY(4)).attr("y2",dnaY(0)).attr("stroke","#a8f0a8").attr("stroke-width",.9).attr("stroke-dasharray","1.5 2.5");dn.append("line").attr("x1",x(i)).attr("x2",x(i)).attr("y1",dnaY(0)).attr("y2",dnaY(-4)).attr("stroke","#ffc090").attr("stroke-width",.9).attr("stroke-dasharray","1.5 2.5");});
[3,2,1].forEach(l=>dn.append("line").attr("x1",0).attr("x2",1563).attr("y1",dnaY(l)).attr("y2",dnaY(l)).attr("stroke","#a0f0a0").attr("stroke-width",.9).attr("stroke-dasharray","4 3"));
[-1,-2,-3].forEach(l=>dn.append("line").attr("x1",0).attr("x2",1563).attr("y1",dnaY(l)).attr("y2",dnaY(l)).attr("stroke","#ffb070").attr("stroke-width",.9).attr("stroke-dasharray","4 3"));
dn.append("line").attr("x1",0).attr("x2",1563).attr("y1",dnaY(4)).attr("y2",dnaY(4)).attr("stroke","#00f000").attr("stroke-width",1.3);
dn.append("line").attr("x1",0).attr("x2",1563).attr("y1",dnaY(-4)).attr("y2",dnaY(-4)).attr("stroke","#ff0000").attr("stroke-width",1.3);
const mo=svg.append("g");
[[momentum1,1826.3,3.1],[momentum2,1844.3,2.5],[momentum3,1861.3,2.9]].forEach(r=>{expand(r[0]).forEach((c,i)=>{
 const outer=(c==="G"||c==="a")?"#00f800":"#f80000";
 mo.append("circle").attr("cx",x(i)).attr("cy",r[1]).attr("r",5.9).attr("fill",outer);
 if(c==="a"||c==="b")mo.append("circle").attr("cx",x(i)).attr("cy",r[1]).attr("r",r[2]).attr("fill",c==="a"?"#ff0000":"#00ff00");});});

/* ---------- frames, axes ---------- */
const sep=y=>{svg.append("rect").attr("x",0).attr("y",y-1).attr("width",1758).attr("height",1.5).attr("fill","#dddddd");svg.append("rect").attr("x",0).attr("y",y+.5).attr("width",1758).attr("height",1.6).attr("fill","#808080");};
[[37,373],[379,1441],[1445,1491],[1495,1602],[1606,1792],[1796,1870]].forEach(s=>svg.append("line").attr("x1",1678.5).attr("x2",1678.5).attr("y1",s[0]).attr("y2",s[1]).attr("stroke","#000").attr("stroke-width",1.2));
[375,1443,1492.5,1603.5,1794].forEach(sep);
svg.append("line").attr("x1",0).attr("x2",1678.5).attr("y1",1870).attr("y2",1870).attr("stroke","#000").attr("stroke-width",1.2);
const topAx=svg.append("g").attr("clip-path","url(#topAxClip)");
topTicks.forEach(v=>{topAx.append("line").attr("x1",1679).attr("x2",1684).attr("y1",yTop(v)).attr("y2",yTop(v)).attr("stroke","#000");topAx.append("text").attr("x",1687).attr("y",yTop(v)+5.5).attr("font-size",16.2).attr("stroke","#000").attr("stroke-width",.45).text(fmt(v));});
[225,175,125].forEach(v=>topAx.append("line").attr("x1",1679).attr("x2",1682).attr("y1",yTop(v)).attr("y2",yTop(v)).attr("stroke","#000"));
const mainAx=svg.append("g").attr("clip-path","url(#mainAxClip)");
mainTicks.forEach(v=>{mainAx.append("line").attr("x1",1679).attr("x2",1684).attr("y1",yMain(v)).attr("y2",yMain(v)).attr("stroke","#000");mainAx.append("line").attr("x1",1679).attr("x2",1682).attr("y1",yMain(v+5)).attr("y2",yMain(v+5)).attr("stroke","#000");mainAx.append("text").attr("x",1687).attr("y",yMain(v)+5.5).attr("font-size",16.2).attr("stroke","#000").attr("stroke-width",.45).text(fmt(v));});
const tag=(g,label,cy,col,tcol="#fff")=>{g.append("path").attr("d",`M1680,${cy}L1685,${cy-8.5}L1758,${cy-8.5}L1758,${cy+8.5}L1685,${cy+8.5}Z`).attr("fill",col);g.append("text").attr("x",1687).attr("y",cy+5.8).attr("font-size",16.6).attr("fill",tcol).attr("stroke",tcol).attr("stroke-width",.4).text(label);};
topTags.forEach(t=>tag(topAx,fmt(t[0]),yTop(t[0]),t[1]));
mainTags.forEach(t=>tag(mainAx,fmt(t[0]),yMain(t[0]),t[1]));
tag(svg,"100,00",1482.3,"#000");
statusLabels.forEach((l,k)=>tag(svg,l,[1526,1539.5,1553,1566.5,1580,1594][k],"#ff0000"));
dnaLevels.forEach((l,k)=>tag(svg,fmt(l),dnaY(l),dnaTagColors[k]));
sep(1603.5);sep(1794);sep(1492.5);
monthTicks.forEach(m=>{const mx=x(m[0])-.5;svg.append("line").attr("x1",mx).attr("x2",mx).attr("y1",1870).attr("y2",1878).attr("stroke","#000").attr("stroke-width",1.2);txt(m[1],mx+2.5,1888,15.5,{w:700});});

/* ---------- titles & chrome ---------- */
txt("SOLUSDT - 1 Day - Binance",47,22,17.4,{w:700});
header1.forEach(h=>txt(h[0],h[1],56,16.3,{fill:"#111"}));
[["SOLUSDT",0],["SOLANA",144],["1 Day",218]].forEach(h=>txt(h[0],h[1],396,16.3,{fill:"#a8a8a8"}));
header2.forEach(h=>txt(h[0],h[1],396,16.3,{fill:"#111"}));
txt("ICE Trading Deluxe Big Point",1,1463,16.3,{fill:"#111"});
txt("Von oben: Status / Kerzenfarbe / Wolkenfarbe / Trend / Setter / Welle",1,1514,16.5,{fill:"#111"});
txt("ICE DNA Code",1,1625,16.3,{fill:"#111"});
txt("Momentum Status Indikator",1,1815,16.3,{fill:"#111"});
const box=(bx,by,w,h,fill="#fff")=>svg.append("rect").attr("x",bx+.5).attr("y",by+.5).attr("width",w).attr("height",h).attr("rx",2).attr("fill",fill).attr("stroke","#222");
const tri=(cx,cy)=>svg.append("path").attr("d",`M${cx-3},${cy-2}L${cx+3},${cy-2}L${cx},${cy+2}Z`).attr("fill","#000");
box(178,41,18,17);tri(187,50);box(206,41,22,17,"#a860d0");svg.append("line").attr("x1",212).attr("x2",212).attr("y1",44).attr("y2",56).attr("stroke","#000");tri(220,50);
box(365,41,18,17);tri(374,50);box(393,41,28,17);txt("R",398,55,15);tri(413,47);box(431,41,18,17);svg.append("path").attr("d","M435,44L446,56M446,44L435,56").attr("stroke","#333").attr("fill","none");
box(84,381,18,17);tri(93,390);box(112,381,22,17,"#a860d0");svg.append("line").attr("x1",118).attr("x2",118).attr("y1",384).attr("y2",396).attr("stroke","#000");tri(126,390);
box(271,381,18,17);tri(280,390);box(298,381,28,17);txt("R",303,395,15);tri(318,387);
svg.append("path").attr("d","M9,7H20L25,12V27H9Z").attr("fill","#fff").attr("stroke","#999");
svg.append("path").attr("d","M14,10V23M18,10V23").attr("stroke","#3aa070").attr("stroke-width",1);
svg.append("rect").attr("x",1505).attr("y",15).attr("width",15).attr("height",11).attr("fill","none").attr("stroke","#333");
svg.append("path").attr("d","M1514,19L1521,13M1516,13H1522V18").attr("fill","none").attr("stroke","#333");
svg.append("line").attr("x1",1585).attr("x2",1599).attr("y1",17.5).attr("y2",17.5).attr("stroke","#333");
svg.append("rect").attr("x",1659).attr("y",10.5).attr("width",13).attr("height",13).attr("fill","none").attr("stroke","#222");
svg.append("path").attr("d","M1732,11L1745,24M1745,11L1732,24").attr("fill","none").attr("stroke","#111").attr("stroke-width",1.3);
svg.append("rect").attr("x",1722.5).attr("y",52.5).attr("width",36).attr("height",35).attr("fill","#7ba58e").attr("stroke","#58c058");
svg.append("path").attr("d","M1724,70L1733,62L1741,68L1757,54").attr("fill","none").attr("stroke","#5a7f8f");
svg.append("path").attr("d","M1724,76L1733,69V73H1739V79H1733V83Z").attr("fill","#34b06a");
svg.append("path").attr("d","M1757,76L1748,69V73H1742V79H1748V83Z").attr("fill","#e86840");
</script></body></html>
